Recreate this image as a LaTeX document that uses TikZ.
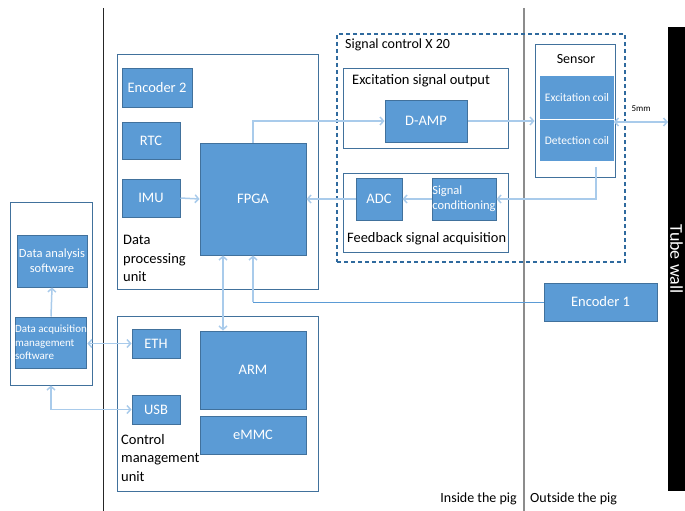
\documentclass[tikz,border=0pt]{standalone}
\usepackage{fontspec}
\setmainfont{Carlito}
\usetikzlibrary{arrows.meta}
\definecolor{boxblue}{HTML}{5B9BD5}
\definecolor{boxedge}{HTML}{41719C}
\definecolor{grpedge}{HTML}{41719C}
\definecolor{connlight}{HTML}{A9CBEB}
\definecolor{conndark}{HTML}{5B9BD5}
\definecolor{dashblue}{HTML}{2F6A9E}
\begin{document}
\begin{tikzpicture}[x=1pt,y=-1pt,
  blk/.style={draw=boxedge, fill=boxblue, line width=1pt, text=white, inner sep=0pt,
    font=\fontsize{14.5}{17}\selectfont},
  grp/.style={draw=grpedge, line width=1pt, inner sep=0pt},
  lbl/.style={inner sep=0pt, anchor=north west, align=left, font=\fontsize{14.5}{18.5}\selectfont},
  conn/.style={draw=connlight, line width=1.5pt},
  thinconn/.style={draw=conndark, line width=0.8pt},
  tip/.style={-{Straight Barb[length=3.5pt,width=8pt]}},
  tips/.style={{Straight Barb[length=3.5pt,width=8pt]}-{Straight Barb[length=3.5pt,width=8pt]}}
]
\useasboundingbox (0,0) rectangle (685,511);

% divider lines
\coordinate (la) at (103.5,8);
\coordinate (lb) at (103.5,511);
\coordinate (ga) at (524,8);
\coordinate (gb) at (524,511);
\draw[line width=1pt, black!85] (la) -- (lb);
\draw[line width=2pt, black!45] (ga) -- (gb);

% group boxes
\node[grp, minimum width=82, minimum height=183] (leftbox) at (51,293.5) {};
\node[grp, minimum width=201, minimum height=234] (dpu) at (217.5,172) {};
\node[grp, minimum width=201, minimum height=175] (cmu) at (217.5,403.5) {};
\node[draw=dashblue, line width=1.6pt, dash pattern=on 4pt off 3pt, minimum width=288, minimum height=228, inner sep=0pt] (sigctl) at (481,148) {};
\node[grp, minimum width=165, minimum height=79] (exc) at (425.5,108.5) {};
\node[grp, minimum width=165, minimum height=79] (fb) at (425.5,212.5) {};
\node[grp, minimum width=80, minimum height=132] (sensor) at (575,111) {};

% group labels
\node[lbl] (dpul) at (123,235) {Data\\processing\\unit};
\node[lbl] (cmul) at (121,434) {Control\\management\\unit};
\node[lbl, font=\fontsize{14}{16}\selectfont] (sigl) at (345,39) {Signal control X 20};
\node[lbl, font=\fontsize{14.5}{16}\selectfont] (excl) at (352,74) {Excitation signal output};
\node[lbl, font=\fontsize{14.4}{16}\selectfont] (fbl) at (347,232) {Feedback signal acquisition};
\node[inner sep=0pt, font=\fontsize{14}{16}\selectfont] (sensl) at (576,59) {Sensor};

% blocks
\node[blk, minimum width=70, minimum height=38] (enc2) at (157,88) {Encoder 2};
\node[blk, minimum width=58, minimum height=37] (rtc) at (151,140.5) {RTC};
\node[blk, minimum width=58, minimum height=38] (imu) at (151,198) {IMU};
\node[blk, minimum width=106, minimum height=112] (fpga) at (253,199) {FPGA};
\node[blk, minimum width=48, minimum height=29] (eth) at (156,343.5) {ETH};
\node[blk, minimum width=48, minimum height=29] (usb) at (156,409.5) {USB};
\node[blk, minimum width=106, minimum height=78] (arm) at (253,370) {ARM};
\node[blk, minimum width=106, minimum height=38] (emmc) at (253,435) {eMMC};
\node[blk, minimum width=82, minimum height=42] (damp) at (426,121) {D-AMP};
\node[blk, minimum width=46, minimum height=42] (adc) at (379,199) {ADC};
\node[blk, minimum width=64, minimum height=42, align=left, font=\fontsize{12.5}{15}\selectfont] (sigc) at (464,199) {Signal\\conditioning};
\node[blk, minimum width=74, minimum height=43, draw=none, font=\fontsize{11.5}{13}\selectfont] (excc) at (577,97.5) {Excitation coil};
\node[blk, minimum width=74, minimum height=41, draw=none, font=\fontsize{11.5}{13}\selectfont] (detc) at (577,140.5) {Detection coil};
\node[blk, minimum width=113, minimum height=38] (enc1) at (600.5,302) {Encoder 1};
\node[blk, minimum width=70, minimum height=52, align=center, font=\fontsize{12.5}{15}\selectfont] (dana) at (52,261) {Data analysis\\software};
\node[blk, minimum width=70, minimum height=51, align=left, font=\fontsize{11}{13.5}\selectfont] (dacq) at (51,342.5) {Data acquisition\\management\\software};

% tube wall
\node[fill=black, text=white, rotate=-90, minimum width=464, minimum height=17, inner sep=0pt,
  font=\fontsize{18}{20}\selectfont] (wall) at (676.5,259) {Tube wall};
\coordinate (wallhit) at (668,122);
\coordinate (sensr) at (614,122);
\node[inner sep=0pt, font=\fontsize{9}{10}\selectfont] (mm) at (641,109) {5mm};

% bottom labels
\node[inner sep=0pt, anchor=south east, font=\fontsize{14}{16}\selectfont] (inside) at (517,505) {Inside the pig};
\node[inner sep=0pt, anchor=south west, font=\fontsize{14}{16}\selectfont] (outside) at (530,505) {Outside the pig};

% connectors
\draw[conn, tip] (fpga.north) |- (damp.west);
\draw[conn, tip] (damp.east) -- (damp.east -| sensor.west);
\draw[conn, tips] (sensr) -- (wallhit);
\coordinate (detout) at (596,167);
\draw[conn, tip] (detout) |- (sigc.east);
\draw[conn, tip] (sigc.west) -- (adc.east);
\draw[conn, tip] (adc.west) -- (fpga.east);
\draw[conn, tip] (imu.east) -- (fpga.west);
\coordinate (encturn) at (enc1.west -| fpga.south);
\draw[thinconn] (enc1.west) -- (encturn);
\draw[conn, tip] (encturn) -- (fpga.south);
\draw[conn, tips] ([xshift=-30]fpga.south) -- ([xshift=-30]arm.north);
\draw[conn, tips] (dacq.east |- eth.west) -- (eth.west);
\draw[conn, tips] (leftbox.south) |- (usb.west);
\draw[conn, tip] (dacq.north) -- (dana.south);
\end{tikzpicture}
\end{document}
